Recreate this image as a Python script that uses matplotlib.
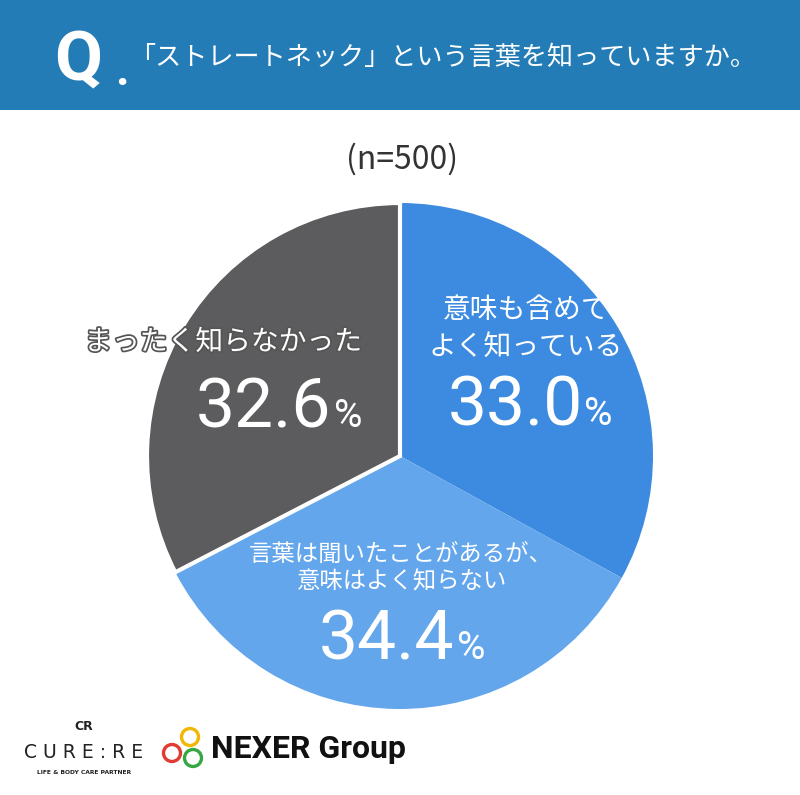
import matplotlib
matplotlib.use('Agg')
import matplotlib.pyplot as plt
import matplotlib.patheffects as pe
from matplotlib.patches import Rectangle, Circle

plt.rcParams['font.family'] = ['Noto Sans CJK JP', 'DejaVu Sans']

W, H = 800, 795

# data
title = '「ストレートネック」という言葉を知っていますか。'
sample = '(n=500)'
labels = ['意味も含めて\nよく知っている', '言葉は聞いたことがあるが、\n意味はよく知らない', 'まったく知らなかった']
values = [33.0, 34.4, 32.6]
colors = ['#3d8be0', '#63a6ec', '#5c5c5e']

HEADER = '#247cb7'


def Y(y):
    # pixel row (top-down) -> data y
    return H - y


fig = plt.figure(figsize=(W / 100, H / 100), dpi=100)
ax = fig.add_axes([0, 0, 1, 1])

# header band
ax.add_patch(Rectangle((0, Y(110)), W, 110, fc=HEADER, ec='none'))
ax.text(78, Y(80), 'Q', color='white', fontsize=50, weight='bold', ha='center',
        va='baseline', family=['Roboto', 'DejaVu Sans'])
ax.text(122, Y(85), '.', color='white', fontsize=34, weight='bold', ha='center',
        va='baseline', family=['Roboto', 'DejaVu Sans'])
ax.text(129, Y(57), title, color='white', fontsize=18.8, ha='left', va='center')

ax.text(402, Y(159), sample, color='#333333', fontsize=23, ha='center', va='center')

# pie
wedges, _ = ax.pie(values, colors=colors, startangle=90, counterclock=False,
                   center=(400, Y(456)), radius=253,
                   wedgeprops=dict(linewidth=0))
wedges[2].set_edgecolor('white')
wedges[2].set_linewidth(3)
wedges[2].set_zorder(3)

ax.set_xlim(0, W)
ax.set_ylim(0, H)
ax.set_aspect('auto')
ax.axis('off')

# labels
outline = [pe.withStroke(linewidth=2.5, foreground='#555555')]
ax.text(526, Y(328), labels[0], color='white', fontsize=20, ha='center', va='center',
        linespacing=1.3, zorder=5)
ax.text(401, Y(568), labels[1], color='white', fontsize=16.8, ha='center', va='center',
        linespacing=1.25, zorder=5)
ax.text(223, Y(342), labels[2], color='white', fontsize=20, ha='center', va='center',
        path_effects=outline, zorder=5)

# number left edge, % left edge, baseline (pixel rows)
num_pos = [(448, 584, 425), (319, 457, 659), (196, 334, 427)]
for v, (xn, xp, yb) in zip(values, num_pos):
    ax.text(xn, Y(yb), f'{v:.1f}', color='white', fontsize=50, ha='left',
            va='baseline', family=['Roboto', 'DejaVu Sans'], zorder=5)
    ax.text(xp, Y(yb), '%', color='white', fontsize=28, ha='left',
            va='baseline', family=['Roboto', 'DejaVu Sans'], zorder=5)

# logos
ax.text(84, Y(727), 'CR', color='#222222', fontsize=9, ha='center', va='center',
        family=['DejaVu Sans'], weight='bold')
ax.text(84, Y(753), 'C U R E : R E', color='#222222', fontsize=13.5, ha='center',
        va='center', family=['DejaVu Sans'])
ax.text(84, Y(773), 'LIFE & BODY CARE PARTNER', color='#222222', fontsize=4.3,
        ha='center', va='center', family=['DejaVu Sans'], weight='bold')

rings = [((190, 737), '#f2b705'), ((172, 753), '#e23b32'), ((193, 758), '#36a843')]
for (cx, cy), c in rings:
    ax.add_patch(Circle((cx, Y(cy)), 8.5, fill=False, ec=c, lw=2.4))
ax.text(211, Y(758), 'NEXER Group', color='#111111', fontsize=23, ha='left',
        va='baseline', family=['Roboto', 'DejaVu Sans'], weight='bold')

fig.savefig('out.png', dpi=100)
